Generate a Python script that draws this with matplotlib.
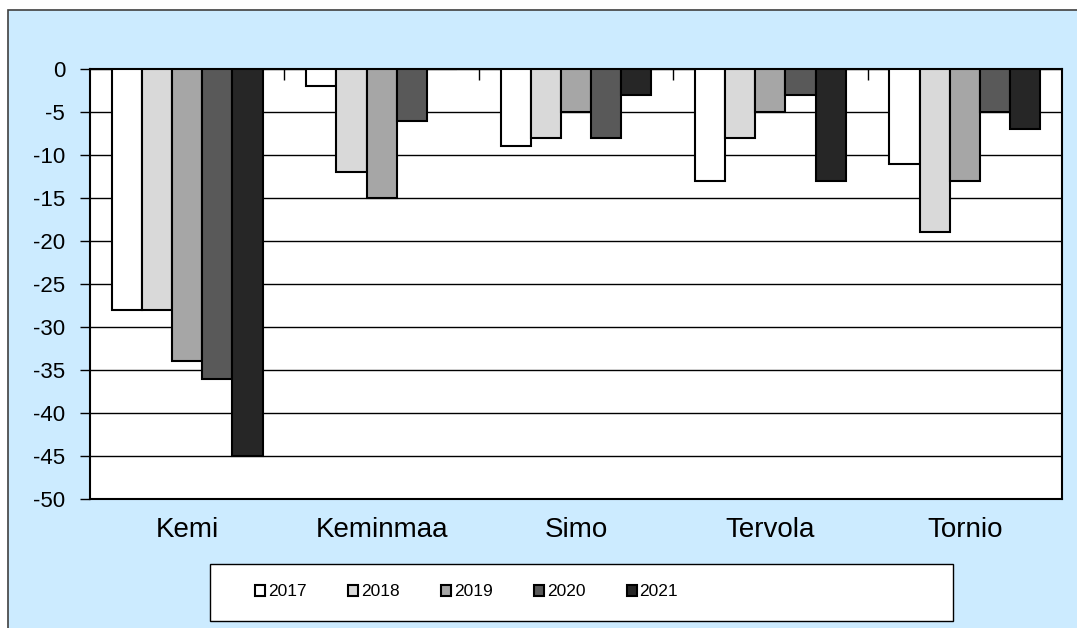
import matplotlib.pyplot as plt
import numpy as np
from matplotlib.patches import Rectangle

plt.rcParams['font.family'] = ['Liberation Sans', 'DejaVu Sans']
plt.rcParams['axes.unicode_minus'] = False

# Kunnat ja vuodet
kunnat = ['Kemi', 'Keminmaa', 'Simo', 'Tervola', 'Tornio']
vuodet = ['2017', '2018', '2019', '2020', '2021']

v2017 = [-28, -2, -9, -13, -11]
v2018 = [-28, -12, -8, -8, -19]
v2019 = [-34, -15, -5, -5, -13]
v2020 = [-36, -6, -8, -3, -5]
v2021 = [-45, 0, -3, -13, -7]

sarjat = [v2017, v2018, v2019, v2020, v2021]
varit = ['#FFFFFF', '#D9D9D9', '#A6A6A6', '#595959', '#262626']

fig = plt.figure(figsize=(10.77, 6.28), dpi=100)
fig.patch.set_facecolor('white')

# vaaleansininen tausta kehyksineen
bg = Rectangle((7.5 / 1077, -0.01), 1.02, 1 - 9.5 / 628 + 0.01, transform=fig.transFigure,
               facecolor='#CCEBFF', edgecolor='#404040', linewidth=1.2, zorder=-10)
fig.patches.append(bg)

# selitteen kehys
lb = Rectangle((210 / 1077, 1 - 621 / 628), (953 - 210) / 1077, (621 - 564) / 628,
               transform=fig.transFigure, facecolor='white', edgecolor='black',
               linewidth=1, zorder=-5)
fig.patches.append(lb)

ax = fig.add_axes([90 / 1077, 1 - 499 / 628, (1062 - 90) / 1077, (499 - 69) / 628])
ax.set_facecolor('white')

x = np.arange(len(kunnat))
w = 0.155
for i, (s, c) in enumerate(zip(sarjat, varit)):
    ax.bar(x + (i - 2) * w, s, width=w, color=c, edgecolor='black', linewidth=1.5,
           label=vuodet[i], zorder=3)

ax.set_xlim(-0.5, 4.5)
ax.set_ylim(-50, 0)
ax.set_yticks(np.arange(-50, 1, 5))
ax.yaxis.grid(True, color='black', linewidth=1, zorder=0)
ax.set_axisbelow(True)

ax.set_xticks(x)
ax.set_xticklabels(kunnat, fontsize=20)
ax.tick_params(axis='x', length=0, pad=13)
ax.set_xticks(np.arange(0.5, 4, 1), minor=True)
ax.tick_params(axis='x', which='minor', bottom=False, top=True, direction='in', length=8, width=1)
ax.tick_params(axis='y', labelsize=16, length=7, width=1, pad=11)

for sp in ax.spines.values():
    sp.set_linewidth(1.5)
    sp.set_color('black')

leg = fig.legend(loc='center left', bbox_to_anchor=(246 / 1077, 1 - 592 / 628), ncol=5,
                 fontsize=12.5, frameon=False,
                 handlelength=0.6, handleheight=0.6, handletextpad=0.15,
                 columnspacing=2.38, borderpad=0)
for h in leg.legend_handles:
    h.set_linewidth(1.5)

fig.savefig('out.png', dpi=100)
